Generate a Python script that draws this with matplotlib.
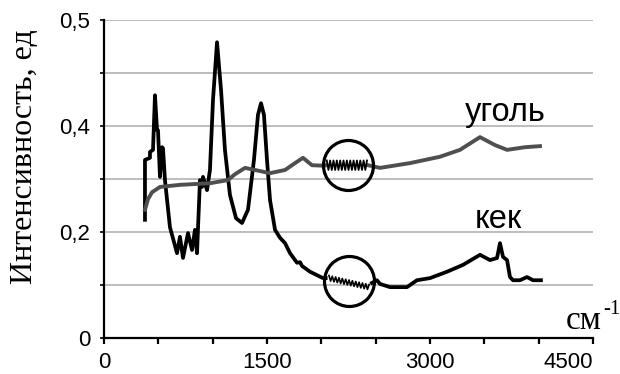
import matplotlib
matplotlib.use("Agg")
import matplotlib.pyplot as plt
import numpy as np

# wavenumber, cm-1 / intensity ("уголь" = coal, gray line)
coal_x1 = [377, 405, 442, 515, 700, 975, 1141, 1205, 1298, 1390, 1527, 1666,
           1758, 1831, 1914, 2034, 2043]
coal_y1 = [0.242, 0.262, 0.275, 0.285, 0.289, 0.292, 0.298, 0.309, 0.321, 0.317,
           0.311, 0.317, 0.330, 0.340, 0.326, 0.325, 0.326]
coal_x2 = [2430, 2540, 2816, 3092, 3276, 3460, 3598, 3709, 3874, 4012]
coal_y2 = [0.326, 0.321, 0.330, 0.342, 0.355, 0.379, 0.364, 0.355, 0.360, 0.362]

# "кек" = cake, black line
cake_x1 = [377, 377, 423, 423, 451, 469, 488, 497, 515, 534, 543, 561, 607, 672,
           699, 727, 773, 810, 837, 856, 883, 902, 911, 948, 975, 1003, 1040,
           1077, 1113, 1159, 1215, 1270, 1325, 1380, 1417, 1445, 1472, 1500,
           1528, 1574, 1620, 1666, 1712, 1776, 1804, 1822, 1896, 2015, 2040]
cake_y1 = [0.223, 0.336, 0.340, 0.351, 0.355, 0.458, 0.392, 0.392, 0.304, 0.360,
           0.358, 0.298, 0.209, 0.160, 0.191, 0.151, 0.198, 0.166, 0.204, 0.160,
           0.298, 0.285, 0.304, 0.279, 0.317, 0.449, 0.558, 0.468, 0.355, 0.270,
           0.226, 0.217, 0.242, 0.336, 0.421, 0.443, 0.421, 0.336, 0.260, 0.204,
           0.189, 0.179, 0.160, 0.142, 0.143, 0.136, 0.125, 0.113, 0.113]
cake_x2 = [2466, 2512, 2540, 2632, 2788, 2880, 3000, 3156, 3304, 3460, 3552,
           3617, 3644, 3672, 3709, 3736, 3764, 3828, 3893, 3948, 4021]
cake_y2 = [0.104, 0.109, 0.102, 0.096, 0.096, 0.109, 0.113, 0.125, 0.138, 0.157,
           0.147, 0.151, 0.179, 0.153, 0.147, 0.115, 0.109, 0.109, 0.115, 0.109,
           0.109]

# break marks (circle centres)
breaks_x = [2245, 2255]
breaks_y = [0.326, 0.1075]

yticks = [0, 0.1, 0.2, 0.3, 0.4, 0.5, 0.6]
ylabels = ["0", "", "0,2", "", "0,4", "", "0,5"]
xticks = [0, 500, 1000, 1500, 2000, 2500, 3000, 3500, 4000, 4500]
xlabels = ["0", "", "", "1500", "", "", "3000", "", "", "4500"]

W, H = 620, 374
fig = plt.figure(figsize=(6.2, 3.74), dpi=100)
ax = fig.add_axes([104 / W, 1 - 338 / H, (593 - 104) / W, (338 - 20) / H])

ax.set_xlim(0, 4500)
ax.set_ylim(0, 0.6)
for s in ["top", "right"]:
    ax.spines[s].set_visible(False)
for s in ["left", "bottom"]:
    ax.spines[s].set_linewidth(1.6)

ax.set_yticks(yticks)
ax.set_yticklabels(ylabels)
ax.set_xticks(xticks)
ax.set_xticklabels(xlabels)
ax.tick_params(axis="y", length=3, width=1.2, pad=7, labelsize=16)
ax.tick_params(axis="x", length=4, width=1.6, pad=6, labelsize=16)
for lab in ax.get_xticklabels() + ax.get_yticklabels():
    lab.set_family("Liberation Sans")
ax.get_xticklabels()[-1].set_ha("right")
ax.get_xticklabels()[-1].set_x(4550)
ax.yaxis.grid(True, color="#ababab", linewidth=1.1)
ax.set_axisbelow(True)

gray = "#4f4f4f"
ax.plot(cake_x1, cake_y1, color="black", lw=2.7, solid_joinstyle="round")
ax.plot(cake_x2, cake_y2, color="black", lw=2.7, solid_joinstyle="round")
ax.plot(coal_x1, coal_y1, color=gray, lw=2.8, solid_joinstyle="round")
ax.plot(coal_x2, coal_y2, color=gray, lw=2.8, solid_joinstyle="round")

# zigzag break symbols inside circles (decoration)
n = 25
zx = np.linspace(2050, 2420, n)
sign = np.array([(-1) ** i for i in range(n)])
ax.plot(zx, 0.326 + 0.009 * sign, color="black", lw=1.3)
zy = np.linspace(0.113, 0.096, n)
ax.plot(zx + 20, zy + 0.005 * sign, color="black", lw=1.2)

ax.plot(breaks_x, breaks_y, "o", ms=36, mfc="none", mec="black", mew=2.3,
        clip_on=False)

fig.text(465 / W, 1 - 121 / H, "уголь", fontsize=23.5, family="Liberation Sans",
         ha="left", va="baseline")
fig.text(475 / W, 1 - 228 / H, "кек", fontsize=23.5, family="Liberation Sans",
         ha="left", va="baseline")
fig.text(566 / W, 1 - 329 / H, "см", fontsize=24, family="Liberation Serif",
         ha="left", va="baseline")
fig.text(603 / W, 1 - 300 / H, "-1", fontsize=15, family="Liberation Serif",
         ha="left", va="top")
fig.text(25 / W, 1 - 157 / H, "Интенсивность, ед", fontsize=23,
         family="Liberation Serif", rotation=90, ha="center", va="center")

fig.savefig("out.png", dpi=100)
